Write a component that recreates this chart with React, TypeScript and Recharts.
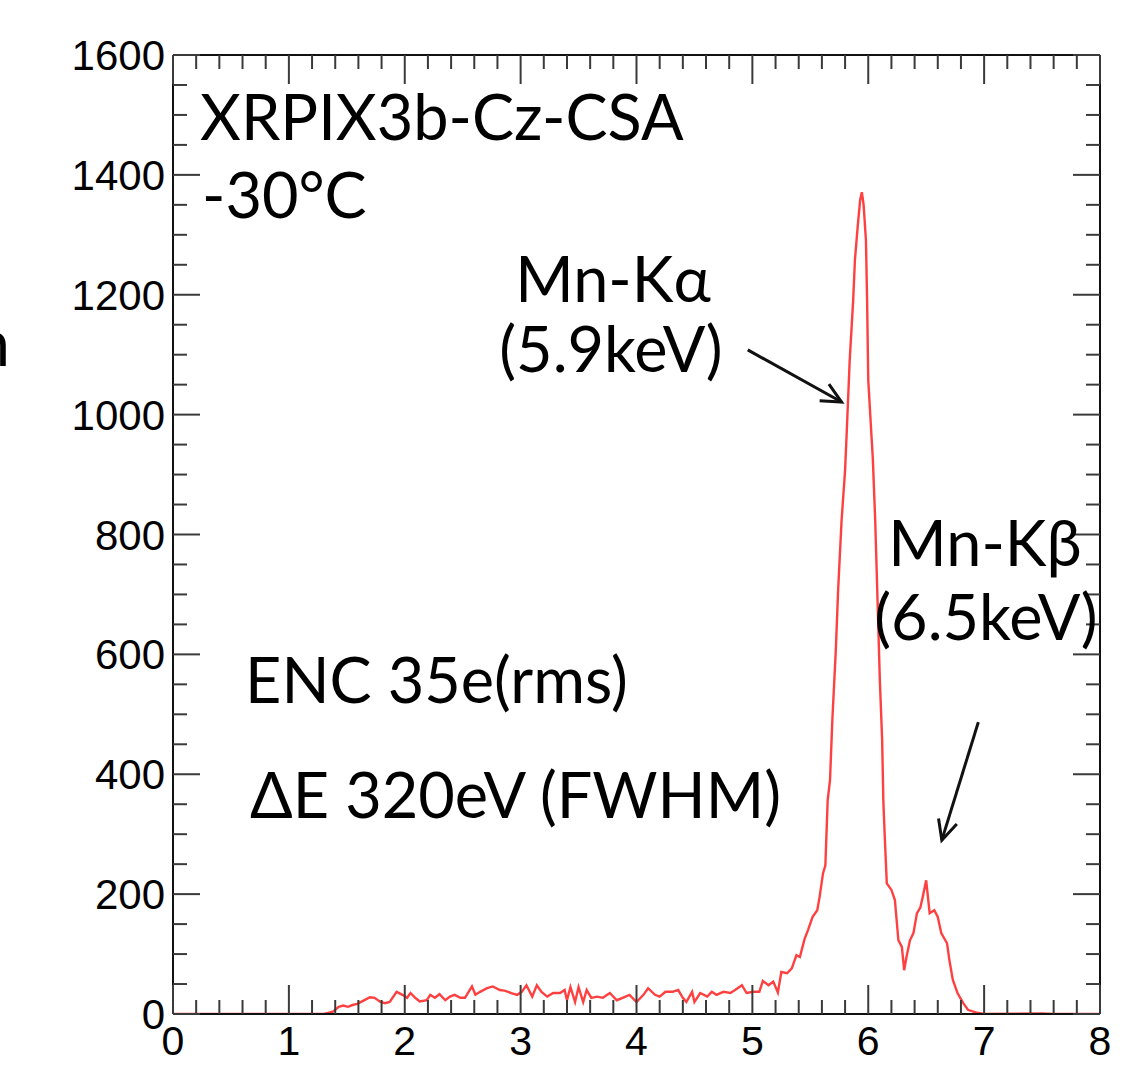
import React from "react";
import { LineChart, Line, XAxis, YAxis, ReferenceLine } from "recharts";

// ── Spectrum (energy in keV, counts per bin) ─────────────────────────────────
const energy = [
  0, 1.3, 1.34, 1.38, 1.43, 1.47, 1.51, 1.55, 1.59, 1.64, 1.7, 1.74, 1.79, 1.83, 1.87,
  1.93, 1.98, 2.02, 2.05, 2.09, 2.13, 2.19, 2.22, 2.26, 2.3, 2.35, 2.39, 2.43, 2.48,
  2.52, 2.58, 2.61, 2.65, 2.71, 2.76, 2.82, 2.86, 2.92, 2.97, 3.01, 3.05, 3.1, 3.14,
  3.18, 3.23, 3.28, 3.34, 3.38, 3.4, 3.43, 3.47, 3.5, 3.54, 3.57, 3.61, 3.66, 3.71,
  3.77, 3.83, 3.88, 3.94, 4.0, 4.06, 4.1, 4.16, 4.2, 4.25, 4.31, 4.36, 4.4, 4.43,
  4.48, 4.5, 4.55, 4.61, 4.65, 4.69, 4.75, 4.81, 4.85, 4.91, 4.95, 5.01, 5.06, 5.09,
  5.14, 5.18, 5.22, 5.25, 5.3, 5.34, 5.38, 5.41, 5.45, 5.48, 5.52, 5.56, 5.58, 5.61,
  5.63, 5.65, 5.67, 5.69, 5.72, 5.74, 5.77, 5.8, 5.815, 5.84, 5.87, 5.885, 5.91, 5.93,
  5.945, 5.96, 5.98, 5.99, 6.0, 6.02, 6.04, 6.06, 6.08, 6.1, 6.12, 6.13, 6.14, 6.16,
  6.2, 6.23, 6.26, 6.29, 6.31, 6.33, 6.36, 6.39, 6.42, 6.45, 6.47, 6.5, 6.53, 6.57,
  6.6, 6.63, 6.68, 6.7, 6.73, 6.77, 6.82, 6.86, 6.94, 7.0, 7.5, 7.6, 8.0,
];
const counts = [
  0, 0, 2, 4, 12, 14, 12, 15, 17, 22, 28, 27, 20, 18, 20,
  37, 32, 27, 35, 27, 21, 23, 32, 27, 33, 23, 29, 32, 27,
  27, 46, 32, 37, 43, 46, 40, 39, 35, 32, 37, 48, 29, 48,
  37, 29, 35, 35, 40, 23, 45, 20, 45, 20, 40, 27, 29, 27,
  35, 23, 27, 32, 20, 32, 43, 32, 29, 37, 37, 40, 27, 20,
  37, 20, 35, 29, 37, 32, 37, 35, 40, 48, 35, 37, 37, 55,
  48, 54, 36, 70, 68, 76, 98, 95, 125, 140, 162, 173, 195, 235,
  248, 357, 390, 490, 607, 707, 824, 907, 974, 1091, 1191, 1258, 1316, 1358,
  1371, 1350, 1291, 1191, 1058, 991, 924, 824, 691, 557, 457, 357, 307, 218,
  207, 190, 123, 112, 73, 95, 123, 135, 168, 178, 195, 223, 168, 173,
  162, 135, 118, 90, 57, 35, 18, 7, 2, 0, 1, 0, 0,
];

const xTicks = [
  0, 0.2, 0.4, 0.6, 0.8, 1, 1.2, 1.4, 1.6, 1.8, 2, 2.2, 2.4, 2.6, 2.8, 3, 3.2, 3.4,
  3.6, 3.8, 4, 4.2, 4.4, 4.6, 4.8, 5, 5.2, 5.4, 5.6, 5.8, 6, 6.2, 6.4, 6.6, 6.8, 7,
  7.2, 7.4, 7.6, 7.8, 8,
];
const yTicks = [
  0, 50, 100, 150, 200, 250, 300, 350, 400, 450, 500, 550, 600, 650, 700, 750, 800,
  850, 900, 950, 1000, 1050, 1100, 1150, 1200, 1250, 1300, 1350, 1400, 1450, 1500,
  1550, 1600,
];

// arrows: [fromE, fromC, toE, toC]
const arrowKa = [4.96, 1108, 5.77, 1021];
const arrowKb = [6.95, 487, 6.635, 290];

const data = energy.map((e, i) => ({ e, c: counts[i] }));

const W = 1145;
const H = 1065;
const TICK = "#3a3a3a";
const AXIS_FONT = "'Liberation Sans', Arial, Helvetica, sans-serif";
const NOTE_FONT = "Lato, 'Open Sans', sans-serif";

const isMajorX = (v: number) => Number.isInteger(v);
const isMajorY = (v: number) => v % 200 === 0;

function BottomTick({ x, y, payload }: any) {
  const major = isMajorX(payload.value);
  return (
    <g>
      <line x1={x} y1={y} x2={x} y2={y - (major ? 29 : 14)} stroke={TICK} strokeWidth={2} />
      {major && (
        <text x={x} y={y + 41} textAnchor="middle" fontSize={41} fontFamily={AXIS_FONT} fill="#000">
          {payload.value}
        </text>
      )}
    </g>
  );
}
function TopTick({ x, y, payload }: any) {
  const major = isMajorX(payload.value);
  return <line x1={x} y1={y} x2={x} y2={y + (major ? 29 : 14)} stroke={TICK} strokeWidth={2} />;
}
function LeftTick({ x, y, payload }: any) {
  const major = isMajorY(payload.value);
  return (
    <g>
      <line x1={x} y1={y} x2={x + (major ? 27 : 14)} y2={y} stroke={TICK} strokeWidth={2} />
      {major && (
        <text x={x - 8} y={y + 15} textAnchor="end" fontSize={42} fontFamily={AXIS_FONT} fill="#000">
          {payload.value}
        </text>
      )}
    </g>
  );
}
function RightTick({ x, y, payload }: any) {
  const major = isMajorY(payload.value);
  return <line x1={x} y1={y} x2={x - (major ? 27 : 14)} y2={y} stroke={TICK} strokeWidth={2} />;
}

function Arrow(props: any) {
  const { x1, y1, x2, y2 } = props;
  const ang = Math.atan2(y2 - y1, x2 - x1);
  const len = 22;
  const spread = 0.45;
  const ax = x2 - len * Math.cos(ang - spread);
  const ay = y2 - len * Math.sin(ang - spread);
  const bx = x2 - len * Math.cos(ang + spread);
  const by = y2 - len * Math.sin(ang + spread);
  return (
    <g>
      <line x1={x1} y1={y1} x2={x2} y2={y2} stroke="#111" strokeWidth={3} />
      <polyline points={`${ax},${ay} ${x2},${y2} ${bx},${by}`} fill="none" stroke="#111" strokeWidth={3} />
    </g>
  );
}

export default function App() {
  const axisLine = { stroke: "#111", strokeWidth: 2 };
  return (
    <div style={{ position: "absolute", left: 0, top: 0, width: W, height: H, background: "#fff", overflow: "hidden" }}>
      <LineChart width={W} height={H} data={data} margin={{ top: 54, right: 44, bottom: 0, left: 0 }}>
        <XAxis
          xAxisId="b" dataKey="e" type="number" domain={[0, 8]} ticks={xTicks} interval={0}
          height={51} tickSize={0} tickMargin={0} tickLine={false} axisLine={axisLine}
          tick={<BottomTick />} allowDataOverflow
        />
        <XAxis
          xAxisId="t" orientation="top" dataKey="e" type="number" domain={[0, 8]} ticks={xTicks}
          interval={0} height={1} tickSize={0} tickMargin={0} tickLine={false} axisLine={axisLine}
          tick={<TopTick />} allowDataOverflow
        />
        <YAxis
          yAxisId="l" type="number" domain={[0, 1600]} ticks={yTicks} interval={0} width={173}
          tickSize={0} tickMargin={0} tickLine={false} axisLine={axisLine} tick={<LeftTick />}
          allowDataOverflow
        />
        <YAxis
          yAxisId="r" orientation="right" type="number" domain={[0, 1600]} ticks={yTicks}
          interval={0} width={1} tickSize={0} tickMargin={0} tickLine={false} axisLine={axisLine}
          tick={<RightTick />} allowDataOverflow
        />
        <Line
          xAxisId="b" yAxisId="l" type="linear" dataKey="c" stroke="#ff4040" strokeWidth={2.4}
          dot={false} isAnimationActive={false}
        />
        <ReferenceLine
          xAxisId="b" yAxisId="l"
          segment={[{ x: arrowKa[0], y: arrowKa[1] }, { x: arrowKa[2], y: arrowKa[3] }]}
          shape={<Arrow />}
        />
        <ReferenceLine
          xAxisId="b" yAxisId="l"
          segment={[{ x: arrowKb[0], y: arrowKb[1] }, { x: arrowKb[2], y: arrowKb[3] }]}
          shape={<Arrow />}
        />
      </LineChart>

      {/* annotations */}
      <svg width={W} height={H} style={{ position: "absolute", left: 0, top: 0, pointerEvents: "none" }}>
        <g fontFamily={NOTE_FONT} fontSize={63} fill="#000">
          <text x={10} y={366} textAnchor="end">n</text>
          <text x={200} y={140}>XRPIX3b-Cz-CSA</text>
          <text x={202} y={218}>-30°C</text>
          <text x={613} y={302} textAnchor="middle">Mn-Kα</text>
          <text x={611} y={372} textAnchor="middle">(5.9keV)</text>
          <text x={985} y={566} textAnchor="middle">Mn-Kβ</text>
          <text x={986} y={640} textAnchor="middle">(6.5keV)</text>
          <text x={245} y={703}>ENC 35e(rms)</text>
          <text x={250} y={818}>ΔE 320eV (FWHM)</text>
        </g>
      </svg>
    </div>
  );
}
